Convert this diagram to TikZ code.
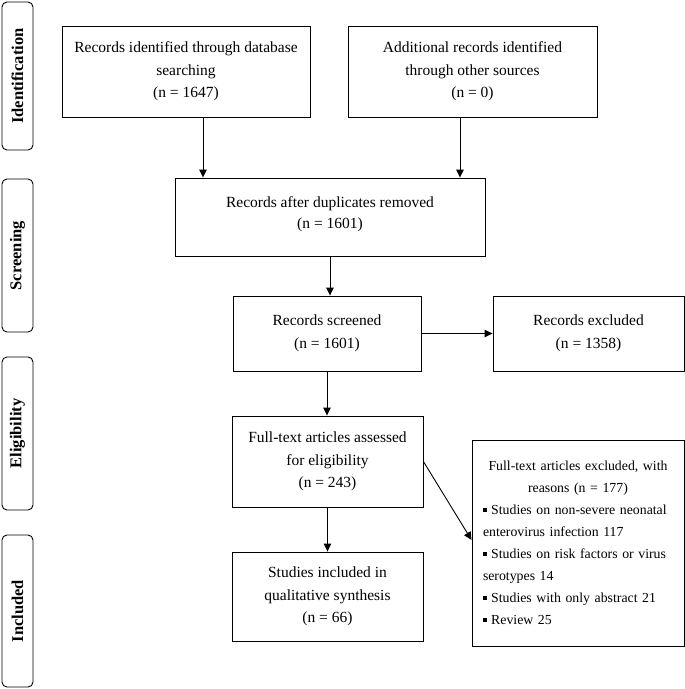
\documentclass[tikz,border=0pt]{standalone}
\usepackage{fontspec}
\setmainfont{Liberation Serif}
\usetikzlibrary{arrows.meta}
\newcommand{\sqbul}{\raisebox{0.2em}{\rule{0.26em}{0.26em}}}
\begin{document}
\begin{tikzpicture}[x=1pt,y=-1pt,
  box/.style={draw=black, line width=0.9pt, align=center, inner sep=0pt,
    font=\fontsize{15.5}{22.5}\selectfont},
  side/.style={draw=black, line width=0.9pt, rounded corners=5pt, inner sep=0pt,
    minimum width=31, font=\fontsize{16.5}{20}\selectfont\bfseries},
  arr/.style={line width=0.9pt, -{Triangle[length=8pt,width=7.5pt]}}]
\useasboundingbox (0,0) rectangle (685,689);
% side phase boxes
\node[side, minimum height=148] (s1) at (17.5,76) {\rotatebox{90}{Identification}};
\node[side, minimum height=153] (s2) at (17.5,255.5) {\rotatebox{90}{Screening}};
\node[side, minimum height=153] (s3) at (17.5,433.5) {\rotatebox{90}{Eligibility}};
\node[side, minimum height=152] (s4) at (17.5,611) {\rotatebox{90}{Included}};
% main boxes
\node[box, minimum width=248, minimum height=91] (b1) at (186,71.5)
  {Records identified through database\\ searching\\ (n = 1647)};
\node[box, minimum width=249, minimum height=91] (b2) at (472.5,71.5)
  {Additional records identified\\ through other sources\\ (n = 0)};
\node[box, minimum width=310, minimum height=78] (b3) at (330,217)
  {Records after duplicates removed\\[-1.5pt] (n = 1601)\rule[-9pt]{0pt}{9pt}};
\node[box, minimum width=188, minimum height=75] (b4) at (327,333.5)
  {Records screened\\ (n = 1601)};
\node[box, minimum width=191, minimum height=75] (b5) at (588.5,333.5)
  {Records excluded\\ (n = 1358)};
\node[box, minimum width=191, minimum height=91] (b6) at (327.5,461.5)
  {Full-text articles assessed\\ for eligibility\\ (n = 243)};
\node[box, minimum width=191, minimum height=89] (b7) at (327.5,596.5)
  {Studies included in\\ qualitative synthesis\\ (n = 66)};
\node[box, minimum width=212, minimum height=206, text width=190, align=left,
  font=\fontsize{13.8}{22}\selectfont] (b8) at (578,543)
  {\makebox[190pt]{Full-text articles excluded, with}\\
   \makebox[190pt]{reasons (n = 177)}\\
   \sqbul{} Studies on non-severe neonatal\\
   enterovirus infection 117\\
   \sqbul{} Studies on risk factors or virus\\
   serotypes 14\\
   \sqbul{} Studies with only abstract 21\\
   \sqbul{} Review 25};
% connectors
\draw[arr] ([xshift=17pt]b1.south) -- ([xshift=17pt]b1.south |- b3.north);
\draw[arr] ([xshift=-12.5pt]b2.south) -- ([xshift=-12.5pt]b2.south |- b3.north);
\draw[arr] (b3.south) -- (b3.south |- b4.north);
\draw[arr] (b4.east) -- (b5.west);
\draw[arr] (b4.south) -- (b4.south |- b6.north);
\draw[arr] (b6.south) -- (b7.north);
\draw[arr] (b6.east) -- ([yshift=3pt]b8.west);
\end{tikzpicture}
\end{document}
